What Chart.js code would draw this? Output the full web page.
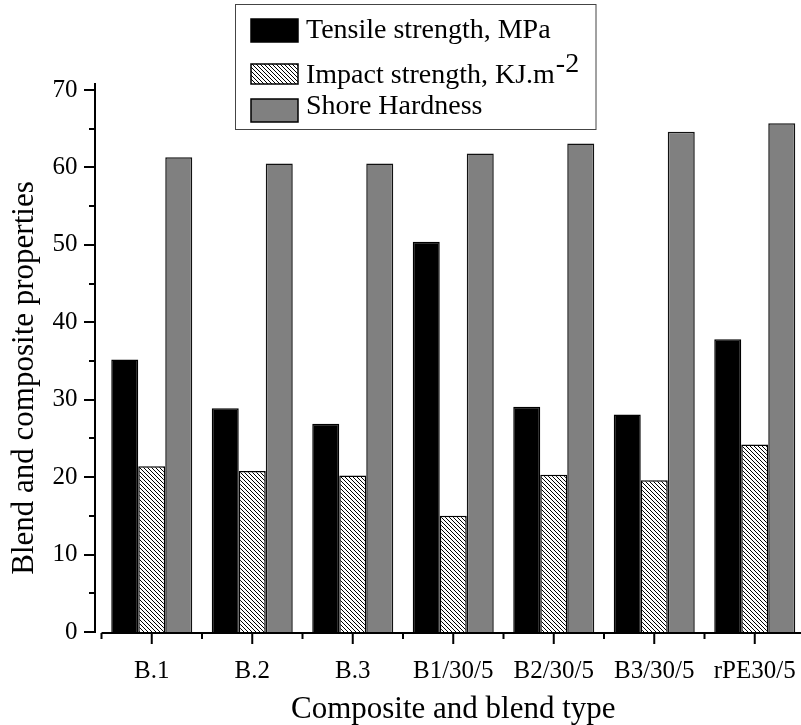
<!DOCTYPE html>
<html>
<head>
<meta charset="utf-8">
<script src="https://cdn.jsdelivr.net/npm/chart.js@4.4.0/dist/chart.umd.min.js"></script>
<style>
  html, body { margin: 0; padding: 0; background: #fff; overflow: hidden; width: 801px; height: 725px; }
  #wrap { width: 801px; height: 725px; overflow: hidden; position: relative; }
  #propChart { position: absolute; left: 0; top: 0; }
</style>
</head>
<body>
<div id="wrap"><canvas id="propChart" width="805" height="725"></canvas></div>
<script>
const categories = ['B.1', 'B.2', 'B.3', 'B1/30/5', 'B2/30/5', 'B3/30/5', 'rPE30/5'];
const tensile = [35.2, 28.9, 26.9, 50.4, 29.1, 28.1, 37.8];
const impact = [21.4, 20.8, 20.2, 15.0, 20.3, 19.6, 24.2];
const shore = [61.3, 60.5, 60.5, 61.8, 63.1, 64.6, 65.7];
const seriesNames = ['Tensile strength, MPa', 'Impact strength, KJ.m', 'Shore Hardness'];
const seriesSup = ['', '-2', ''];
const yTitle = 'Blend and composite properties';
const xTitle = 'Composite and blend type';

const serif = '"Liberation Serif", "Times New Roman", serif';

// diagonal hatch for the impact bars
const makeHatch = () => {
  const c = document.createElement('canvas');
  c.width = 4; c.height = 4;
  const g = c.getContext('2d');
  g.fillStyle = '#fff';
  g.fillRect(0, 0, 4, 4);
  g.strokeStyle = '#000';
  g.lineWidth = 1;
  g.beginPath();
  g.moveTo(-4, -4); g.lineTo(8, 8);
  g.moveTo(-4, 0); g.lineTo(4, 8);
  g.moveTo(0, -4); g.lineTo(8, 4);
  g.stroke();
  return g.createPattern(c, 'repeat');
};
const hatch = makeHatch();

// axis lines and tick marks in the Origin style (offset x axis)
const axesPlugin = {
  id: 'axesPlugin',
  afterDraw(chart) {
    const ctx = chart.ctx;
    const y = chart.scales.y;
    const x = chart.scales.x;
    const area = chart.chartArea;
    const axisX = 95;
    ctx.save();
    ctx.strokeStyle = '#000';
    ctx.lineWidth = 2;
    ctx.beginPath();
    ctx.moveTo(axisX, area.top);
    ctx.lineTo(axisX, area.bottom + 1);
    y.ticks.forEach(t => {
      const py = Math.round(y.getPixelForValue(t.value));
      const len = t.value % 10 === 0 ? 11 : 6;
      ctx.moveTo(axisX, py);
      ctx.lineTo(axisX - len, py);
    });
    const baseY = area.bottom + 1;
    ctx.moveTo(area.left, baseY);
    ctx.lineTo(area.right, baseY);
    const step = x.getPixelForValue(1) - x.getPixelForValue(0);
    for (let i = 0; i < categories.length; i++) {
      const cx = x.getPixelForValue(i);
      ctx.moveTo(cx, baseY);
      ctx.lineTo(cx, baseY + 11);
    }
    for (let i = 0; i <= categories.length; i++) {
      const bx = x.getPixelForValue(0) - step / 2 + i * step;
      ctx.moveTo(bx, baseY);
      ctx.lineTo(bx, baseY + 6);
    }
    ctx.stroke();

    // rotated y title
    ctx.fillStyle = '#000';
    ctx.font = '31px ' + serif;
    ctx.textAlign = 'center';
    ctx.textBaseline = 'alphabetic';
    ctx.translate(33, 378);
    ctx.rotate(-Math.PI / 2);
    ctx.fillText(yTitle, 0, 0);
    ctx.restore();
  }
};

// framed legend with superscript
const legendPlugin = {
  id: 'legendPlugin',
  afterDraw(chart) {
    const ctx = chart.ctx;
    ctx.save();
    ctx.fillStyle = '#fff';
    ctx.fillRect(235.5, 4.5, 360.5, 125);
    ctx.strokeStyle = '#444';
    ctx.lineWidth = 1;
    ctx.strokeRect(235.5, 4.5, 360.5, 125);
    const rows = [
      { top: 19, h: 23, base: 38 },
      { top: 64, h: 20, base: 83 },
      { top: 99, h: 23, base: 114 }
    ];
    ctx.font = '28px ' + serif;
    ctx.textBaseline = 'alphabetic';
    ctx.textAlign = 'left';
    chart.data.datasets.forEach((ds, i) => {
      const r = rows[i];
      ctx.fillStyle = ds.backgroundColor;
      ctx.fillRect(251, r.top, 47, r.h);
      ctx.strokeStyle = '#000';
      ctx.lineWidth = 1.5;
      ctx.strokeRect(251, r.top, 47, r.h);
      ctx.fillStyle = '#000';
      ctx.fillText(seriesNames[i], 306, r.base);
      if (seriesSup[i]) {
        const w = ctx.measureText(seriesNames[i]).width;
        ctx.fillText(seriesSup[i], 306 + w + 1, r.base - 11);
      }
    });
    ctx.restore();
  }
};

const ctx = document.getElementById('propChart').getContext('2d');

const chart = new Chart(ctx, {
  type: 'bar',
  data: {
    labels: categories,
    datasets: [
      { label: seriesNames[0], data: tensile, backgroundColor: '#000', borderColor: '#000', borderWidth: 1.5 },
      { label: seriesNames[1], data: impact, backgroundColor: hatch, borderColor: '#000', borderWidth: 1.5 },
      { label: seriesNames[2], data: shore, backgroundColor: '#808080', borderColor: '#111', borderWidth: 1.5 }
    ]
  },
  options: {
    responsive: false,
    animation: false,
    layout: { padding: { top: 83, left: 0, right: 0, bottom: 0 } },
    datasets: { bar: { categoryPercentage: 0.806, barPercentage: 1.0 } },
    plugins: {
      legend: { display: false },
      tooltip: { enabled: false }
    },
    scales: {
      x: {
        type: 'category',
        offset: true,
        grid: { display: false, drawTicks: false, tickLength: 0 },
        border: { display: false },
        ticks: {
          color: '#000',
          font: { family: serif, size: 25 },
          padding: 24,
          maxRotation: 0,
          autoSkip: false
        },
        title: {
          display: true,
          text: xTitle,
          color: '#000',
          font: { family: serif, size: 31, lineHeight: 1 },
          padding: { top: 0, bottom: 0 }
        },
        afterFit(scale) {
          scale.height = 93;
          scale.paddingLeft = 0;
          scale.paddingRight = 0;
        }
      },
      y: {
        min: 0,
        max: 70.9,
        grid: { display: false, drawTicks: false, tickLength: 0 },
        border: { display: false },
        ticks: {
          stepSize: 5,
          includeBounds: false,
          color: '#000',
          font: { family: serif, size: 25 },
          padding: 24,
          callback: v => (v % 10 === 0 ? String(v) : '')
        },
        afterBuildTicks(scale) {
          scale.ticks = scale.ticks.filter(t => t.value % 5 === 0);
        },
        afterFit(scale) {
          scale.width = 101.5;
          scale.paddingTop = 0;
          scale.paddingBottom = 0;
        }
      }
    }
  },
  plugins: [axesPlugin, legendPlugin]
});
</script>
</body>
</html>
